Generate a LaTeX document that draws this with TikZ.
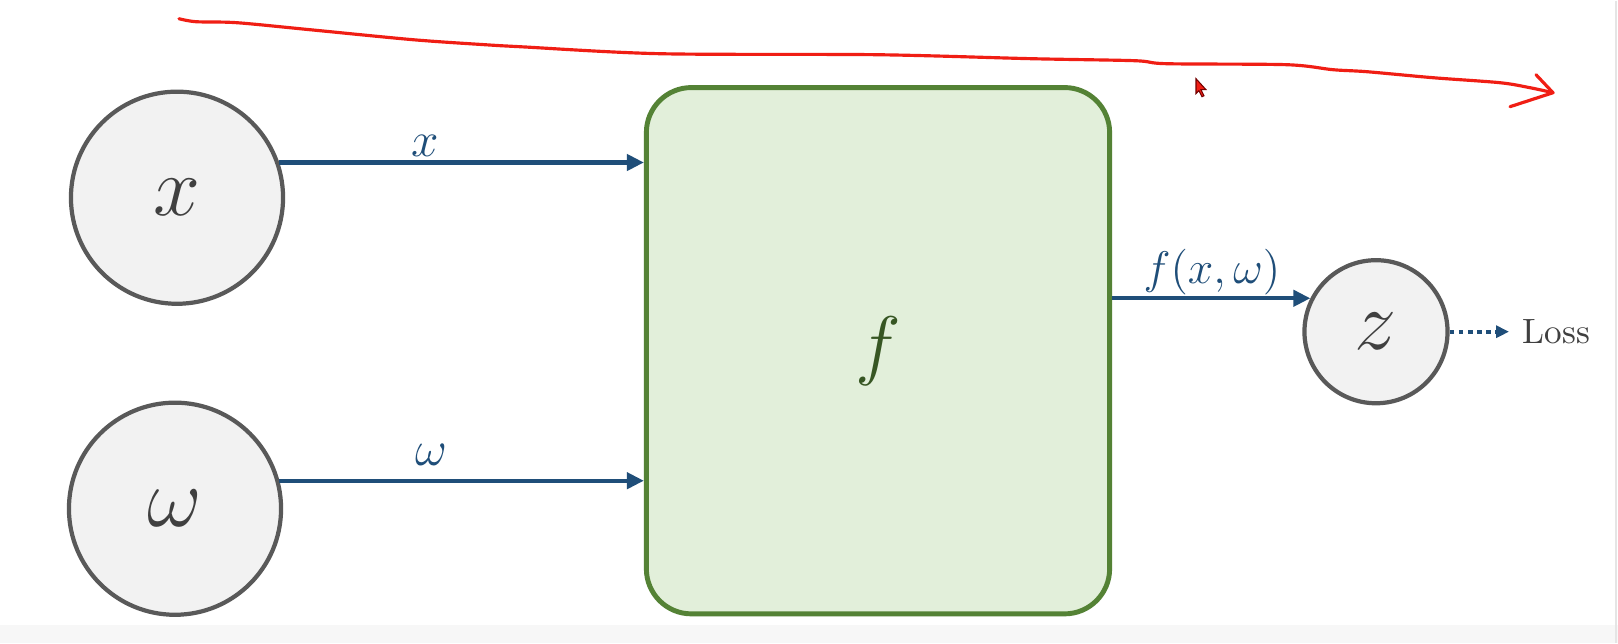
\documentclass[tikz,border=0pt]{standalone}
\usepackage{fix-cm}
\usepackage{amsmath}
\usetikzlibrary{arrows.meta, positioning, calc}
\definecolor{nodegray}{RGB}{242,242,242}
\definecolor{edgegray}{RGB}{89,89,89}
\definecolor{boxgreen}{RGB}{226,239,218}
\definecolor{boxedge}{RGB}{84,130,53}
\definecolor{fgreen}{RGB}{55,86,35}
\definecolor{flowblue}{RGB}{31,78,121}
\definecolor{textgray}{RGB}{64,64,64}
\definecolor{penred}{RGB}{240,30,20}

\begin{document}
\begin{tikzpicture}[x=0.01cm, y=-0.01cm,
  var/.style={circle, draw=edgegray, fill=nodegray, line width=1.2pt, text=textgray, font=\fontsize{24}{28}\selectfont},
  flow/.style={flowblue, line width=1.2pt, -{Triangle[length=0.17cm, width=0.16cm]}},
  lbl/.style={text=flowblue, font=\fontsize{14}{17}\selectfont, inner sep=0pt}]
  \fill[white] (0,0) rectangle (1618,642);
  \fill[gray!6] (0,624) rectangle (1618,642);
  \draw[gray!20] (1616,0) -- (1616,642);
  \useasboundingbox (0,0) rectangle (1618,642);

  % inputs, block and output
  \node[var, minimum size=2.12cm] (xin) at (177,197) {$x$};
  \node[var, minimum size=2.12cm] (win) at (175,508) {$\omega$};
  \node[draw=boxedge, fill=boxgreen, line width=1.4pt, rounded corners=0.45cm,
        minimum width=4.63cm, minimum height=5.26cm, text=fgreen,
        font=\fontsize{22}{26}\selectfont] (fbox) at (878,350) {$f$};
  \node[var, minimum size=1.43cm] (zout) at (1376,331) {$z$};
  \node[anchor=west, inner sep=0.13cm, text=textgray, font=\fontsize{10}{12}\selectfont] (loss) at (1509,331) {Loss};

  \draw[flow] (xin.19) -- (xin.19 -| fbox.west);
  \draw[flow] (win.15) -- (win.15 -| fbox.west);
  \draw[flow] (fbox.east |- zout.153) -- (zout.153);
  \draw[flowblue, line width=1.2pt, dash pattern=on 1.3pt off 1.3pt,
        -{Triangle[length=0.13cm, width=0.12cm]}] (zout.east) -- (loss.west);

  \node[lbl] (xlbl) at (425,145) {$x$};
  \node[lbl] (wlbl) at (431,454) {$\omega$};
  \node[lbl, font=\fontsize{13}{16}\selectfont] (flbl) at (1212,271) {$f(x,\omega)$};

  % pen stroke over the slide
  \draw[penred, line width=0.9pt, line cap=round, line join=round]
    plot[smooth, tension=0.5] coordinates {(179,18) (196,21) (237,22) (310,29) (413,39)
      (485,44) (520,46) (660,53) (877,54) (1032,58) (1135,60) (1167,63) (1287,64)
      (1333,69) (1367,71) (1433,77) (1500,82) (1530,87) (1553,92)};
  \draw[penred, line width=0.9pt, line cap=round, line join=round]
    (1536,74) -- (1553,92) -- (1510,106);
  \filldraw[fill=penred, draw=red!45!black, line width=0.3pt]
    (1196,78) -- (1196,93) -- (1199,90) -- (1202,96) -- (1204,95) -- (1201,89) -- (1206,89) -- cycle;
\end{tikzpicture}
\end{document}
